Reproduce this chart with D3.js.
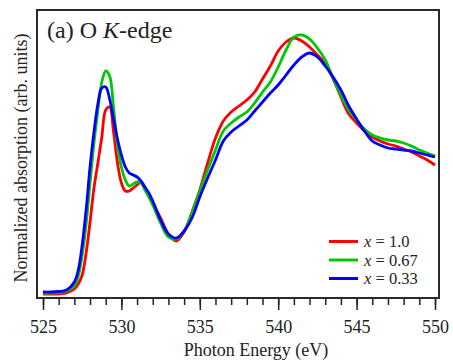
<!DOCTYPE html>
<html>
<head>
<meta charset="utf-8">
<script src="https://cdn.jsdelivr.net/npm/d3@7"></script>
<style>
  html, body { margin: 0; padding: 0; background: #fff; }
  svg { display: block; }
  text { font-family: "Liberation Serif", "Times New Roman", serif; fill: #222; }
</style>
</head>
<body>
<svg id="chart" width="453" height="363"></svg>
<script>
// ---- Data ----
const energies = [
  525, 525.5, 526, 526.5, 527,
  527.25, 527.5, 527.75, 528, 528.25, 528.5, 528.75, 529, 529.25, 529.5, 529.75,
  530, 530.25, 530.5, 530.75, 531, 531.25, 531.5, 531.75, 532,
  532.5, 533, 533.5, 534, 534.5, 535, 535.5, 536, 536.5, 537, 537.5, 538, 538.5,
  539, 539.5, 540, 540.5, 541, 541.5, 542, 542.5, 543, 543.5, 544, 544.5, 545,
  545.5, 546, 546.5, 547, 547.5, 548, 548.5, 549, 549.5, 550
];
const seriesX10 = [
  0.04, 0.04, 0.04, 0.05, 0.09,
  0.14, 0.23, 0.45, 0.76, 1.10, 1.35, 1.61, 1.88, 1.91, 1.66, 1.35,
  1.15, 1.07, 1.07, 1.10, 1.13, 1.16, 1.10, 1.03, 0.95,
  0.80, 0.64, 0.57, 0.66, 0.86, 1.08, 1.35, 1.60, 1.77, 1.86, 1.92, 1.98, 2.06,
  2.19, 2.32, 2.47, 2.56, 2.60, 2.57, 2.51, 2.43, 2.34, 2.19, 2.01, 1.84, 1.75,
  1.67, 1.61, 1.57, 1.54, 1.52, 1.49, 1.46, 1.42, 1.38, 1.33
];
const seriesX067 = [
  0.05, 0.05, 0.055, 0.07, 0.12,
  0.22, 0.43, 0.74, 1.15, 1.55, 1.88, 2.16, 2.27, 2.22, 1.90, 1.53,
  1.31, 1.18, 1.12, 1.14, 1.16, 1.15, 1.08, 1.01, 0.93,
  0.75, 0.61, 0.59, 0.67, 0.85, 1.07, 1.28, 1.48, 1.67, 1.75, 1.81, 1.86, 1.95,
  2.06, 2.16, 2.31, 2.48, 2.61, 2.63, 2.59, 2.50, 2.38, 2.20, 2.03, 1.88, 1.78,
  1.69, 1.63, 1.60, 1.58, 1.57, 1.55, 1.52, 1.48, 1.45, 1.42
];
const seriesX033 = [
  0.06, 0.06, 0.065, 0.08, 0.16,
  0.28, 0.53, 0.88, 1.31, 1.66, 1.94, 2.10, 2.11, 1.99, 1.79, 1.59,
  1.43, 1.31, 1.25, 1.23, 1.21, 1.17, 1.11, 1.05, 0.97,
  0.78, 0.64, 0.60, 0.67, 0.80, 1.01, 1.20, 1.38, 1.57, 1.66, 1.72, 1.78, 1.87,
  1.96, 2.05, 2.13, 2.23, 2.33, 2.41, 2.45, 2.41, 2.32, 2.21, 2.08, 1.92, 1.79,
  1.67, 1.57, 1.53, 1.50, 1.49, 1.48, 1.47, 1.45, 1.43, 1.41
];
const seriesNames = ["1.0", "0.67", "0.33"];
const seriesColors = ["#ff0000", "#00c800", "#0000ff"];
const majorTicks = [525, 530, 535, 540, 545, 550];
const minorTicks = d3.range(525, 551, 1);
const titleText = "(a) O ";
const xLabel = "Photon Energy (eV)";
const yLabel = "Normalized absorption (arb. units)";

// ---- Layout ----
const frame = { left: 37, right: 439, top: 10, bottom: 298 };
const svg = d3.select("#chart");
const x = d3.scaleLinear().domain([525, 550]).range([43, 435]);
const y = d3.scaleLinear().domain([0, 2.88]).range([frame.bottom, frame.top]);

// minor ticks
svg.append("g")
  .attr("transform", `translate(0,${frame.bottom})`)
  .call(d3.axisBottom(x).tickValues(minorTicks).tickSize(7).tickFormat(""))
  .call(g => g.select(".domain").remove())
  .call(g => g.selectAll("line").attr("stroke", "#222").attr("stroke-width", 1.5));

// major ticks
svg.append("g")
  .attr("transform", `translate(0,${frame.bottom})`)
  .call(d3.axisBottom(x).tickValues(majorTicks).tickSize(12).tickPadding(10).tickFormat(d3.format("d")))
  .call(g => g.select(".domain").remove())
  .call(g => g.selectAll("line").attr("stroke", "#222").attr("stroke-width", 1.5))
  .call(g => g.selectAll("text")
      .attr("font-family", '"Liberation Serif", serif')
      .attr("font-size", 18).attr("fill", "#222"));

// curves
const data = [seriesX10, seriesX067, seriesX033];
const line = d3.line()
  .x((d, i) => x(energies[i]))
  .y(d => y(d))
  .curve(d3.curveCatmullRom.alpha(0.5));

svg.append("g")
  .selectAll("path")
  .data(data)
  .join("path")
  .attr("d", d => line(d))
  .attr("fill", "none")
  .attr("stroke", (d, i) => seriesColors[i])
  .attr("stroke-width", 2.8)
  .attr("stroke-linejoin", "round");

// frame
svg.append("rect")
  .attr("x", frame.left).attr("y", frame.top)
  .attr("width", frame.right - frame.left)
  .attr("height", frame.bottom - frame.top)
  .attr("fill", "none").attr("stroke", "#2a2a2a").attr("stroke-width", 2);

// title
const t = svg.append("text").attr("x", 47).attr("y", 38).attr("font-size", 24);
t.append("tspan").text(titleText);
t.append("tspan").attr("font-style", "italic").text("K");
t.append("tspan").text("-edge");

// axis labels
svg.append("text")
  .attr("x", 256).attr("y", 356)
  .attr("text-anchor", "middle").attr("font-size", 18)
  .text(xLabel);

svg.append("text")
  .attr("transform", "translate(27,158) rotate(-90)")
  .attr("text-anchor", "middle").attr("font-size", 18)
  .text(yLabel);

// legend
const legend = svg.append("g");
seriesNames.forEach((name, i) => {
  const ly = 241.5 + i * 18.5;
  legend.append("line")
    .attr("x1", 329).attr("x2", 358)
    .attr("y1", ly).attr("y2", ly)
    .attr("stroke", seriesColors[i]).attr("stroke-width", 3);
  const lt = legend.append("text")
    .attr("x", 364).attr("y", ly + 5.5).attr("font-size", 16.5);
  lt.append("tspan").attr("font-style", "italic").text("x");
  lt.append("tspan").text(" = " + name);
});
</script>
</body>
</html>
